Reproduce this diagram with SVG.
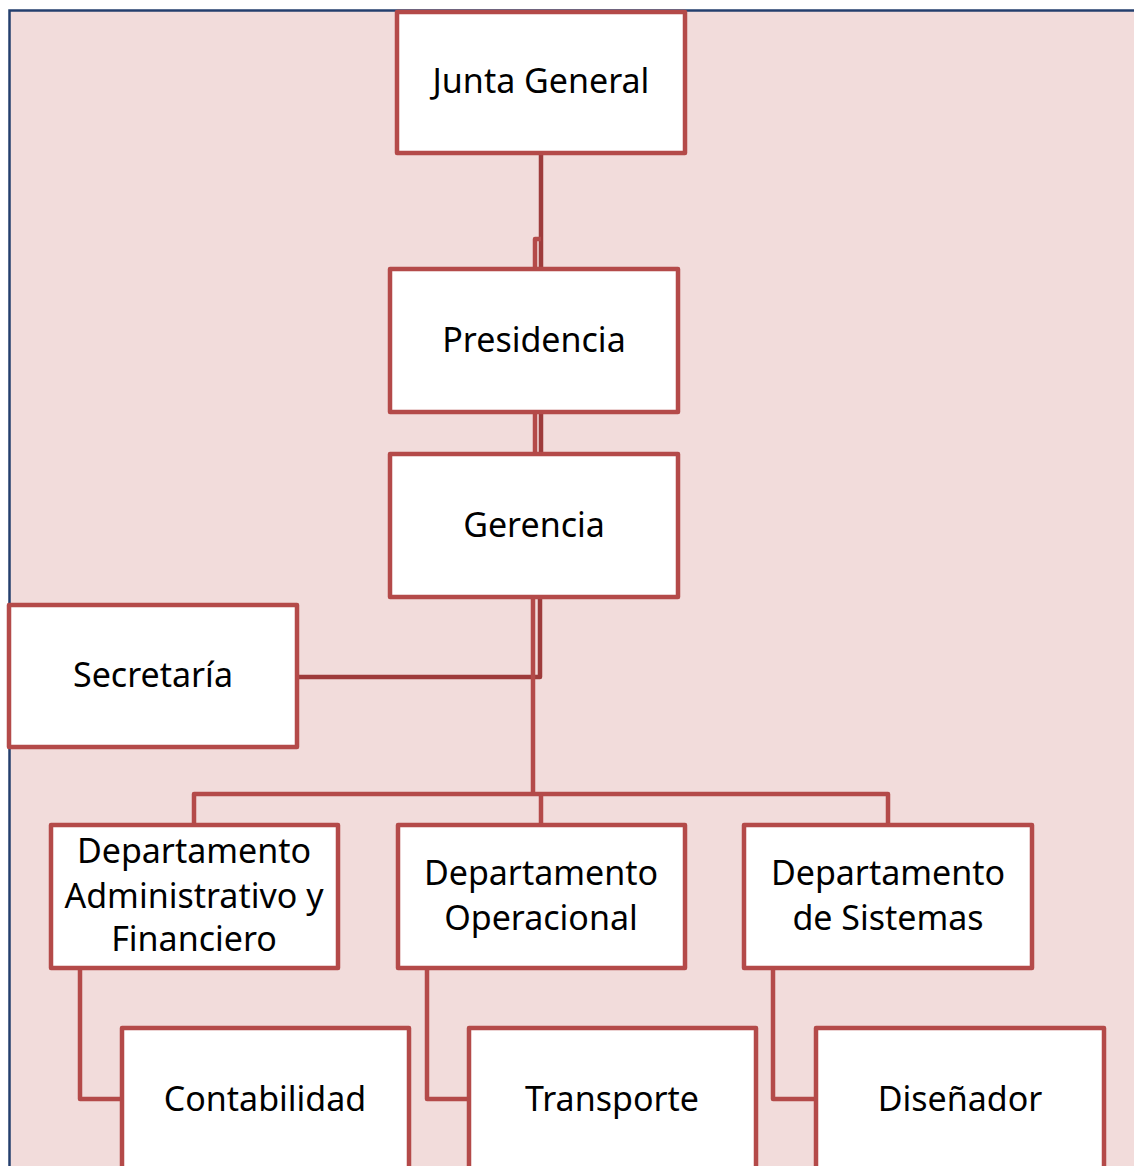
<svg xmlns="http://www.w3.org/2000/svg" width="1134" height="1166" viewBox="0 0 1134 1166">
<style>
.bg{fill:#f2dcdb}
.frame{fill:none;stroke:#243f6e;stroke-width:2.5}
.box{fill:#ffffff;stroke:#b44a49;stroke-width:4.5;stroke-linejoin:round}
.c{fill:none;stroke:#b44a49;stroke-width:4.5;stroke-linejoin:round}
.cd{fill:none;stroke:#9e3b3b;stroke-width:4.5;stroke-linejoin:round}
text{font-family:"Noto Sans","Liberation Sans",sans-serif;font-size:34px;fill:#000000;text-anchor:middle}
</style>
<rect class="bg" x="9" y="10" width="1125" height="1156"/>
<path class="frame" d="M9.5,1166 V10.5 H1134"/>
<g id="connectors">
<path class="cd" d="M541,153 V269"/>
<path class="c" d="M541,239 H535 V269"/>
<path class="c" d="M535,412 V454"/>
<path class="cd" d="M541,412 V454"/>
<path class="cd" d="M540,597 V677 H297"/>
<path class="c" d="M533,597 V794"/>
<path class="c" d="M194,825 V794 H888 V825"/>
<path class="c" d="M541,794 V825"/>
<path class="c" d="M80,968 V1099 H122"/>
<path class="c" d="M427,968 V1099 H469"/>
<path class="c" d="M773,968 V1099 H816"/>
</g>
<g id="junta"><rect class="box" x="397" y="12" width="288" height="141"/><text x="541" y="93">Junta General</text></g>
<g id="presidencia"><rect class="box" x="390" y="269" width="288" height="143"/><text x="534" y="352">Presidencia</text></g>
<g id="gerencia"><rect class="box" x="390" y="454" width="288" height="143"/><text x="534" y="537">Gerencia</text></g>
<g id="secretaria"><rect class="box" x="9" y="605" width="288" height="142"/><text x="153" y="687">Secretaría</text></g>
<g id="dept-admin"><rect class="box" x="51" y="825" width="287" height="143"/><text x="194" y="863">Departamento</text><text x="194" y="908">Administrativo y</text><text x="194" y="951">Financiero</text></g>
<g id="dept-oper"><rect class="box" x="398" y="825" width="287" height="143"/><text x="541" y="885">Departamento</text><text x="541" y="930">Operacional</text></g>
<g id="dept-sist"><rect class="box" x="744" y="825" width="288" height="143"/><text x="888" y="885">Departamento</text><text x="888" y="930">de Sistemas</text></g>
<g id="contabilidad"><rect class="box" x="122" y="1028" width="287" height="160"/><text x="265" y="1111">Contabilidad</text></g>
<g id="transporte"><rect class="box" x="469" y="1028" width="287" height="160"/><text x="612" y="1111">Transporte</text></g>
<g id="disenador"><rect class="box" x="816" y="1028" width="288" height="160"/><text x="960" y="1111">Diseñador</text></g>
</svg>
